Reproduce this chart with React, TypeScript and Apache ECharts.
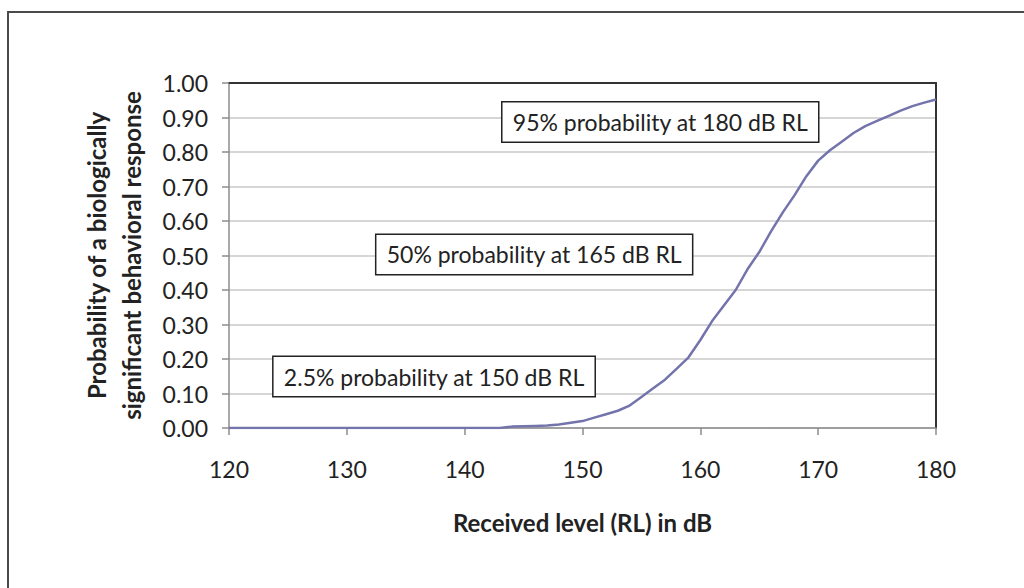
import React, { useEffect, useRef } from "react";
import * as echarts from "echarts";

const levels = [
  120, 121, 122, 123, 124, 125, 126, 127, 128, 129, 130, 131, 132, 133, 134, 135, 136, 137, 138, 139, 140,
  141, 142, 143, 144, 145, 146, 147, 148, 149, 150, 151, 152, 153, 154, 155, 156, 157, 158, 159, 160,
  161, 162, 163, 164, 165, 166, 167, 168, 169, 170, 171, 172, 173, 174, 175, 176, 177, 178, 179, 180,
];
const probabilities = [
  0, 0, 0, 0, 0, 0, 0, 0, 0, 0, 0, 0, 0, 0, 0, 0, 0, 0, 0, 0, 0,
  0, 0, 0, 0.004, 0.005, 0.006, 0.007, 0.01, 0.015, 0.02, 0.03, 0.04, 0.05, 0.065, 0.09, 0.115, 0.14, 0.172, 0.205, 0.255,
  0.31, 0.355, 0.4, 0.46, 0.51, 0.57, 0.625, 0.675, 0.73, 0.775, 0.805, 0.83, 0.855, 0.875, 0.89, 0.905, 0.92, 0.933, 0.943, 0.952,
];
const xTicks = { min: 120, max: 180, interval: 10 };
const yTicks = { min: 0, max: 1, interval: 0.1 };
const annotations = [
  { text: "95% probability at 180 dB RL", x: 156.6, y: 0.887 },
  { text: "50% probability at 165 dB RL", x: 145.9, y: 0.503 },
  { text: "2.5% probability at 150 dB RL", x: 137.4, y: 0.149 },
];
const xTitle = "Received level (RL) in dB";
const yTitle = "Probability of a biologically\nsignificant behavioral response";

const FONT = "Lato, 'Noto Sans', sans-serif";

export default function App() {
  const ref = useRef<HTMLDivElement>(null);
  useEffect(() => {
    if (!ref.current) return;
    const chart = echarts.init(ref.current, undefined, { renderer: "svg" });
    const data = levels.map((l, i) => [l, probabilities[i]]);
    chart.setOption({
      animation: false,
      backgroundColor: "#ffffff",
      textStyle: { fontFamily: FONT },
      grid: { left: 229, top: 83, right: 88, bottom: 160 },
      graphic: [
        {
          type: "rect",
          shape: { x: 8, y: 12, width: 1100, height: 700 },
          style: { fill: "none", stroke: "#4a4a4a", lineWidth: 2 },
          silent: true,
        },
      ],
      xAxis: [
        {
          type: "value",
          min: xTicks.min,
          max: xTicks.max,
          interval: xTicks.interval,
          name: xTitle,
          nameLocation: "middle",
          nameGap: 82,
          nameTextStyle: { fontFamily: FONT, fontSize: 24, fontWeight: "bold", color: "#222" },
          axisLine: { show: true, lineStyle: { color: "#8c8c8c", width: 1.5 } },
          axisTick: { show: true, length: 7, lineStyle: { color: "#8c8c8c", width: 1.5 } },
          axisLabel: { fontFamily: FONT, fontSize: 23, color: "#222", margin: 29 },
          splitLine: { show: false },
        },
        {
          type: "value",
          position: "top",
          min: xTicks.min,
          max: xTicks.max,
          axisLine: { show: true, onZero: false, lineStyle: { color: "#333", width: 2 } },
          axisTick: { show: false },
          axisLabel: { show: false },
          splitLine: { show: false },
        },
      ],
      yAxis: [
        {
          type: "value",
          min: yTicks.min,
          max: yTicks.max,
          interval: yTicks.interval,
          name: yTitle,
          nameLocation: "middle",
          nameRotate: 90,
          nameGap: 80,
          nameTextStyle: { fontFamily: FONT, fontSize: 24, fontWeight: "bold", color: "#222", lineHeight: 35 },
          axisLine: { show: true, lineStyle: { color: "#8c8c8c", width: 1.5 } },
          axisTick: { show: true, length: 7, lineStyle: { color: "#8c8c8c", width: 1.5 } },
          axisLabel: {
            fontFamily: FONT,
            fontSize: 23,
            color: "#222",
            margin: 21,
            formatter: (v: number) => v.toFixed(2),
          },
          splitLine: { show: true, lineStyle: { color: "#c8c8c8", width: 1.5 } },
        },
        {
          type: "value",
          position: "right",
          min: yTicks.min,
          max: yTicks.max,
          axisLine: { show: true, onZero: false, lineStyle: { color: "#333", width: 2 } },
          axisTick: { show: false },
          axisLabel: { show: false },
          splitLine: { show: false },
        },
      ],
      series: [
        {
          type: "line",
          xAxisIndex: 0,
          yAxisIndex: 0,
          data,
          showSymbol: false,
          symbol: "none",
          smooth: false,
          lineStyle: { color: "#7474ad", width: 2.5 },
          z: 3,
          markPoint: {
            symbol: "rect",
            symbolSize: 0,
            silent: true,
            data: annotations.map((a) => ({
              coord: [a.x, a.y],
              value: a.text,
              label: {
                show: true,
                position: "inside",
                formatter: a.text,
                fontFamily: FONT,
                fontSize: 23,
                color: "#222",
                backgroundColor: "#ffffff",
                borderColor: "#222",
                borderWidth: 1.5,
                padding: [8, 10, 8, 10],
              },
            })),
          },
        },
      ],
    });
    return () => chart.dispose();
  }, []);
  return (
    <div
      ref={ref}
      style={{ position: "fixed", left: 0, top: 0, width: 1024, height: 588, background: "#fff" }}
    />
  );
}
